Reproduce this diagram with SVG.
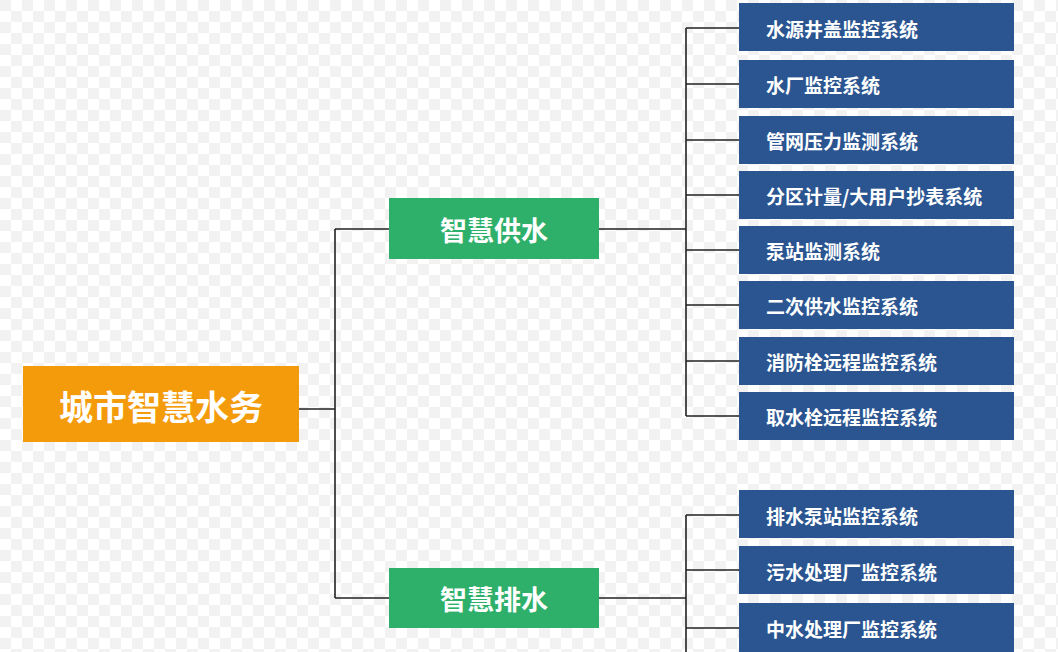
<svg xmlns="http://www.w3.org/2000/svg" width="1058" height="652" viewBox="0 0 1058 652">
<defs>
<pattern id="chk" width="22" height="22" patternUnits="userSpaceOnUse">
<rect width="22" height="22" fill="#fff"/>
<rect width="11" height="11" fill="#f2f2f2"/>
<rect x="11" y="11" width="11" height="11" fill="#f2f2f2"/>
</pattern>
</defs>
<style>
text{font-family:"Noto Sans CJK SC","Noto Sans",sans-serif;font-weight:bold;fill:#fff;dominant-baseline:central}
.b{fill:#2a5591}
.g{fill:#2eb06b}
.bt{font-size:19px}
.gt{font-size:27px;text-anchor:middle}
.c{stroke:#222;stroke-width:1.6;fill:none}
</style>
<rect width="1058" height="652" fill="url(#chk)"/>
<g id="connectors" class="c">
<path d="M299 409H335M335 229V598M335 229H389M335 598H389"/>
<path d="M599 229H686M686 28V416M686 28H739M686 84H739M686 140H739M686 195H739M686 250H739M686 305H739M686 361H739M686 416H739"/>
<path d="M599 598H686M686 515V652M686 515H739M686 570H739M686 628H739"/>
</g>
<g id="root"><rect x="23" y="366" width="276" height="76" fill="#f49b0c"/><text x="161" y="405" style="font-size:34px;text-anchor:middle">城市智慧水务</text></g>
<g id="supply"><rect class="g" x="389" y="198" width="210" height="61"/><text class="gt" x="494" y="229">智慧供水</text></g>
<g id="drain"><rect class="g" x="389" y="568" width="210" height="60"/><text class="gt" x="494" y="598">智慧排水</text></g>
<g id="s1"><rect class="b" x="739" y="3" width="275" height="48"/><text class="bt" x="766" y="28">水源井盖监控系统</text></g>
<g id="s2"><rect class="b" x="739" y="60" width="275" height="48"/><text class="bt" x="766" y="84">水厂监控系统</text></g>
<g id="s3"><rect class="b" x="739" y="116" width="275" height="48"/><text class="bt" x="766" y="140">管网压力监测系统</text></g>
<g id="s4"><rect class="b" x="739" y="171" width="275" height="48"/><text class="bt" x="766" y="195">分区计量/大用户抄表系统</text></g>
<g id="s5"><rect class="b" x="739" y="226" width="275" height="48"/><text class="bt" x="766" y="250">泵站监测系统</text></g>
<g id="s6"><rect class="b" x="739" y="281" width="275" height="48"/><text class="bt" x="766" y="305">二次供水监控系统</text></g>
<g id="s7"><rect class="b" x="739" y="337" width="275" height="48"/><text class="bt" x="766" y="361">消防栓远程监控系统</text></g>
<g id="s8"><rect class="b" x="739" y="392" width="275" height="48"/><text class="bt" x="766" y="416">取水栓远程监控系统</text></g>
<g id="d1"><rect class="b" x="739" y="490" width="275" height="48"/><text class="bt" x="766" y="515">排水泵站监控系统</text></g>
<g id="d2"><rect class="b" x="739" y="546" width="275" height="48"/><text class="bt" x="766" y="571">污水处理厂监控系统</text></g>
<g id="d3"><rect class="b" x="739" y="603" width="275" height="49"/><text class="bt" x="766" y="628">中水处理厂监控系统</text></g>
</svg>
